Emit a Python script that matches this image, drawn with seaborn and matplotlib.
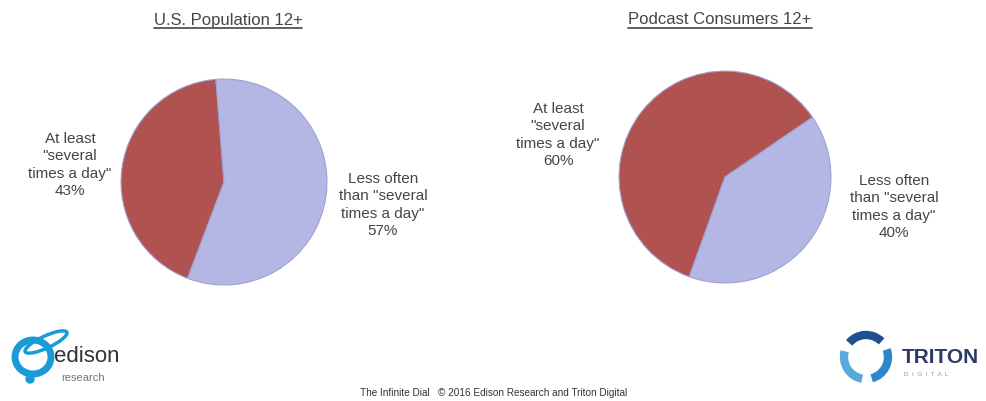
import seaborn as sns
import matplotlib.pyplot as plt
import matplotlib.patches as mpatches
from matplotlib.lines import Line2D
import numpy as np

# data
titles = ["U.S. Population 12+", "Podcast Consumers 12+"]
categories = ['At least\n"several\ntimes a day"', 'Less often\nthan "several\ntimes a day"']
us_share = [43, 57]
podcast_share = [60, 40]
footer = "The Infinite Dial   \u00a9 2016 Edison Research and Triton Digital"

sns.set_theme(style="white")
plt.rcParams['font.family'] = ['Liberation Sans', 'DejaVu Sans']

farben = ['#b0524f', '#b4b7e4']
textfarbe = '#454545'
W, H = 987, 402

fig = plt.figure(figsize=(W / 100, H / 100), dpi=100)
fig.patch.set_facecolor('white')


def px_axes(cx, cy, r):
    return fig.add_axes([(cx - r) / W, (H - cy - r) / H, 2 * r / W, 2 * r / H])


def px_text(x, y, s, **kw):
    return fig.text(x / W, 1 - y / H, s, **kw)


def plot_pie(cx, cy, r, werte, start, titel, tx, label_pos):
    ax = px_axes(cx, cy, r)
    ax.pie(werte, colors=farben, startangle=start, counterclock=True, radius=1,
           wedgeprops=dict(edgecolor='#9ea1d6', linewidth=0.8))
    ax.set_xlim(-1.01, 1.01)
    ax.set_ylim(-1.01, 1.01)
    ax.axis('off')
    for (lx, ly), cat, w in zip(label_pos, categories, werte):
        px_text(lx, ly, f"{cat}\n{w}%", ha='center', va='center',
                fontsize=11, color=textfarbe, linespacing=1.28)
    t = px_text(tx, 20, titel, ha='center', va='center', fontsize=12, color=textfarbe)
    return t


t1 = plot_pie(224, 183, 104, us_share, 94.5, titles[0], 228,
              [(70, 165), (383, 205)])
t2 = plot_pie(725, 178, 107, podcast_share, 34.3, titles[1], 720,
              [(558, 135), (894, 207)])

# Unterstreichung der Titel
fig.canvas.draw()
renderer = fig.canvas.get_renderer()
for t in (t1, t2):
    bb = t.get_window_extent(renderer)
    y = (bb.y0 - 1) / H
    fig.add_artist(Line2D([bb.x0 / W, bb.x1 / W], [y, y], color=textfarbe, lw=1.2))

# Fusszeile
px_text(494, 393, footer, ha='center', va='center', fontsize=7.2, color='#333333')

# Logos (vereinfacht)
lax = fig.add_axes([0, 0, 1, 1], facecolor='none')
lax.set_xlim(0, W)
lax.set_ylim(H, 0)
lax.axis('off')
lax.add_patch(mpatches.Ellipse((33, 358), 36, 34, fill=False, ec='#1b9ad8', lw=5))
lax.add_patch(mpatches.Ellipse((46, 343), 46, 12, angle=-25, fill=False, ec='#1b9ad8', lw=2.5))
lax.add_patch(mpatches.Circle((30, 380), 4, color='#1b9ad8'))
lax.text(54, 357, "edison", fontsize=16, color='#333333', va='center', ha='left')
lax.text(61, 378, "research", fontsize=8, color='#777777', va='center', ha='left')

for a0, c in [(100, '#5aa9dc'), (220, '#1f4f8f'), (340, '#2d86c9')]:
    lax.add_patch(mpatches.Arc((866, 358), 44, 44, theta1=a0, theta2=a0 + 95,
                               color=c, lw=6))
lax.text(902, 358, "TRITON", fontsize=15, fontweight='bold', color='#2c3a66',
         va='center', ha='left')
lax.text(904, 375, "D  I  G  I  T  A  L", fontsize=4.5, color='#8a8fa8',
         va='center', ha='left')

plt.savefig("out.png", dpi=100)
